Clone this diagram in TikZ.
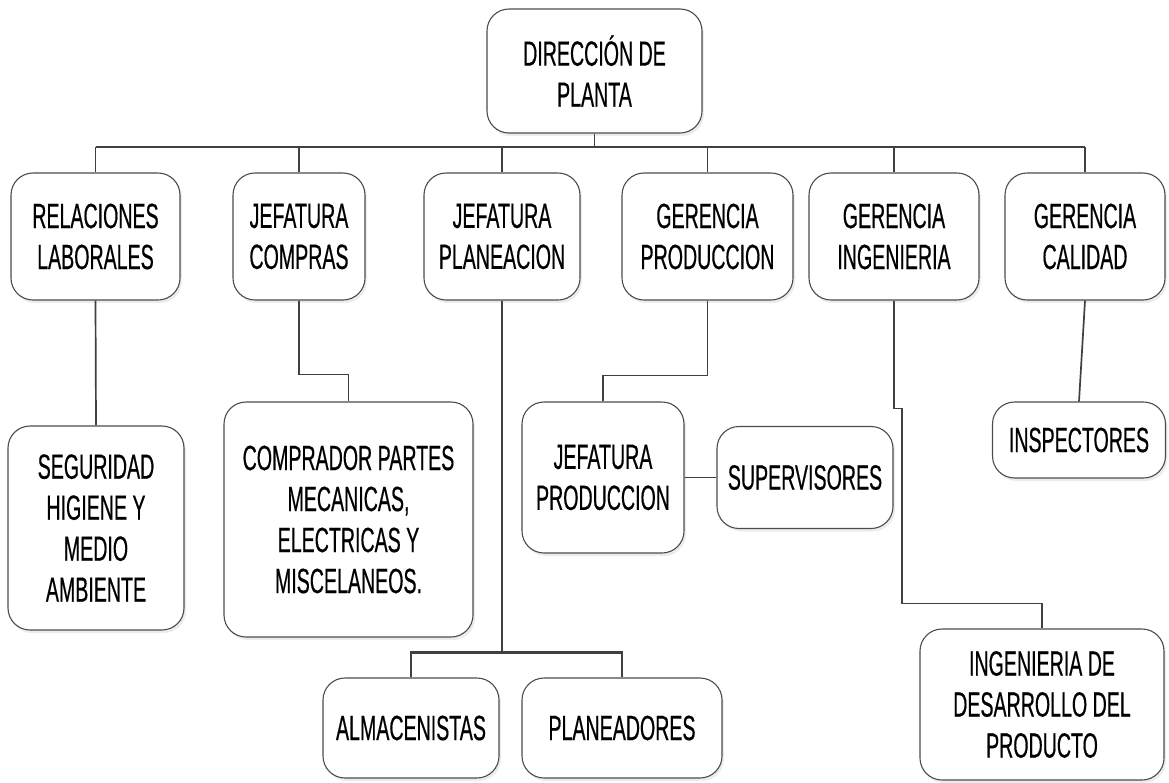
\documentclass[tikz,border=0pt]{standalone}
\usepackage{fontspec}
\setmainfont[FakeStretch=0.56,FakeBold=0.4]{Liberation Sans}
\usepackage{tikz}
\usetikzlibrary{calc,shadows}

\begin{document}
\begin{tikzpicture}[x=1pt,y=-1pt,
  caja/.style={draw=black!70,line width=1.1pt,fill=white,rounded corners=22pt,
    align=center,inner sep=0pt,
    drop shadow={shadow xshift=2pt,shadow yshift=-3pt,fill=black!15},
    font=\fontsize{35}{41}\selectfont},
  enlace/.style={draw=black!75,line width=1.7pt},
  barra/.style={draw=black!75,line width=2.8pt}]
\useasboundingbox (0,0) rectangle (1169,782);

% direccion
\node[caja,minimum width=215,minimum height=124] (dir) at (594.5,71) {DIRECCIÓN DE\\PLANTA};

% jefaturas y gerencias
\node[caja,minimum width=169,minimum height=127] (rel) at (95.5,236.5) {RELACIONES\\LABORALES};
\node[caja,minimum width=132,minimum height=127] (com) at (299,236.5) {JEFATURA\\COMPRAS};
\node[caja,minimum width=156,minimum height=127] (pla) at (502,236.5) {JEFATURA\\PLANEACION};
\node[caja,minimum width=171,minimum height=127] (gpr) at (707.5,236.5) {GERENCIA\\PRODUCCION};
\node[caja,minimum width=170,minimum height=127] (gin) at (894,236.5) {GERENCIA\\INGENIERIA};
\node[caja,minimum width=160,minimum height=127] (gca) at (1085,236.5) {GERENCIA\\CALIDAD};

% personal
\node[caja,minimum width=176,minimum height=204] (seg) at (96,528) {SEGURIDAD\\HIGIENE Y\\MEDIO\\AMBIENTE};
\node[caja,minimum width=249,minimum height=235] (cmp) at (348.5,519.5) {COMPRADOR PARTES\\MECANICAS,\\ELECTRICAS Y\\MISCELANEOS.};
\node[caja,minimum width=162,minimum height=151] (jpr) at (603,477.5) {JEFATURA\\PRODUCCION};
\node[caja,minimum width=176,minimum height=102] (sup) at (805,477.5) {SUPERVISORES};
\node[caja,minimum width=176,minimum height=100] (alm) at (411,728) {ALMACENISTAS};
\node[caja,minimum width=200,minimum height=100] (pln) at (622,728) {PLANEADORES};
\node[caja,minimum width=244,minimum height=151] (ide) at (1042,704.5) {INGENIERIA DE\\DESARROLLO DEL\\PRODUCTO};
\node[caja,minimum width=173,minimum height=76] (ins) at (1079,440) {INSPECTORES};

\coordinate (bus) at (0,147);

% conexiones
\draw[barra] (rel.north |- bus) -- (gca.north |- bus);
\draw[enlace] (dir.south) -- (dir.south |- bus);
\foreach \n in {rel,com,pla,gpr,gin,gca}
  \draw[enlace] (\n.north) -- (\n.north |- bus);

\draw[enlace] (rel.south) -- (seg.north);
\draw[enlace] (com.south) -- ++(0,74) -| (cmp.north);
\draw[enlace] (pla.south) -- ++(0,353);
\draw[barra] (alm.north) -- ++(0,-25) -| (pln.north);
\draw[enlace] (gpr.south) -- ++(0,75) -| (jpr.north);
\draw[enlace] (jpr.east |- sup.west) -- (sup.west);
\draw[enlace] (gin.south) -- ++(0,108) -- ++(8,0) -- ++(0,195) -| (ide.north);
\draw[enlace] (gca.south) -- (ins.north);
\end{tikzpicture}
\end{document}
